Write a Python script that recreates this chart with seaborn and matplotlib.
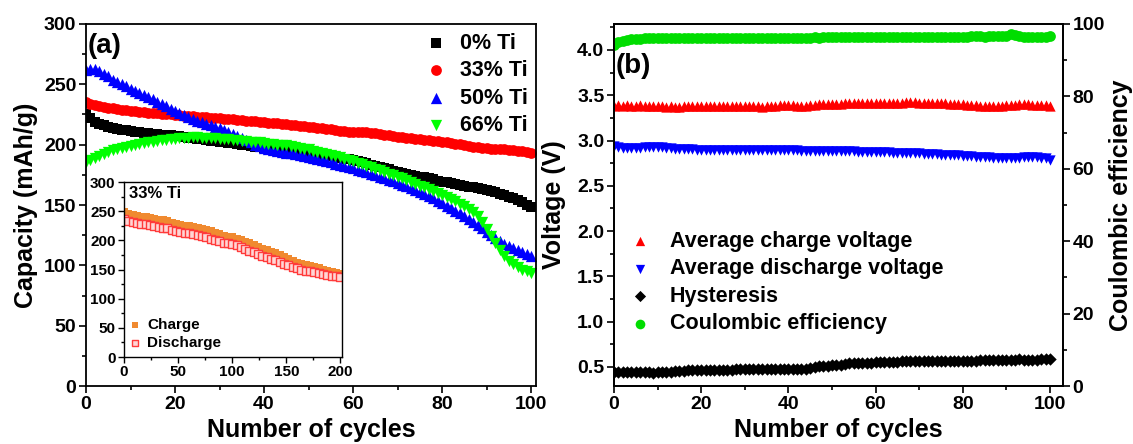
import matplotlib
matplotlib.use("Agg")
import matplotlib.pyplot as plt
import seaborn as sns
import pandas as pd
from matplotlib.ticker import MultipleLocator

# ---------------- data ----------------
cycles = list(range(0, 101))

cap_0Ti = [225, 222, 219, 217.5, 216, 215, 214, 213.2, 212.5, 211.8, 211.2,
           210.7, 210.2, 209.7, 209.3, 208.9, 208.6, 208.3, 208, 207.7, 207.3,
           206.8, 206.3, 205.8, 205.3, 204.8, 204.3, 203.8, 203.3, 202.9, 202.5,
           202, 201.5, 201, 200.4, 199.9, 199.4, 198.9, 198.4, 197.8, 197.3,
           196.9, 196.5, 196, 195.6, 195.1, 194.7, 194.2, 193.8, 193.3, 192.9,
           192.4, 191.9, 191.4, 190.8, 190.3, 189.7, 189.1, 188.5, 187.9, 187.3,
           186.4, 185.5, 184.5, 183.5, 182.5, 181.5, 180.5, 179.5, 178.5, 177.6,
           176.8, 176, 175.2, 174.4, 173.6, 172.8, 172, 171.2, 170.3, 169.4,
           168.7, 168, 167.3, 166.6, 166, 165.3, 164.7, 164, 163.3, 162.5,
           161.6, 160.6, 159.5, 158.3, 157, 155.6, 154, 152.3, 150.3, 148]

cap_33Ti = [235, 233.8, 232.8, 232, 231.3, 230.7, 230.1, 229.5, 229, 228.5, 228,
            227.6, 227.2, 226.9, 226.6, 226.3, 226, 225.7, 225.4, 225.1, 224.7,
            224.4, 224.1, 223.8, 223.5, 223.2, 222.9, 222.6, 222.3, 222, 221.8,
            221.5, 221.2, 220.9, 220.6, 220.3, 220, 219.7, 219.3, 218.9, 218.5,
            218.2, 217.9, 217.6, 217.3, 217, 216.6, 216.2, 215.8, 215.4, 215,
            214.6, 214.2, 213.7, 213.2, 212.7, 212.2, 211.6, 211.2, 210.9, 210.8,
            210.6, 210.4, 210.1, 209.7, 209.3, 208.8, 208.3, 207.7, 207.1, 206.6,
            206.2, 205.8, 205.3, 204.9, 204.5, 204.1, 203.7, 203.3, 202.9, 202.5,
            202, 201.4, 200.8, 200.2, 199.6, 199, 198.4, 197.8, 197.4, 197,
            196.8, 196.6, 196.4, 196.1, 195.8, 195.5, 195, 194.4, 193.6, 192.8]

cap_50Ti = [262, 263, 262.5, 261, 258.5, 256.5, 254, 252, 250, 248.3, 246.5,
            244.8, 243, 241.2, 239.4, 237.6, 235.7, 233.8, 231.8, 229.8, 227.8,
            226, 224.3, 222.7, 221.2, 219.8, 218.5, 217.3, 216.2, 215, 213.8,
            212.3, 210.7, 209, 207.2, 205.4, 203.6, 201.8, 200, 198.5, 197.2,
            196.3, 195.5, 194.8, 194.1, 193.4, 192.7, 192, 191.3, 190.6, 189.8,
            188.9, 188, 187.1, 186.2, 185.3, 184.3, 183.3, 182.3, 181.3, 180.3,
            179.2, 178.1, 177, 175.9, 174.7, 173.5, 172.3, 171, 169.6, 168.2,
            166.8, 165.4, 163.9, 162.3, 160.7, 159, 157.3, 155.5, 153.6, 151.6,
            149.5, 147.4, 145.2, 143, 140.7, 138.3, 135.8, 133.3, 130.6, 127.8,
            125, 122.4, 120, 117.8, 115.8, 114, 112.3, 110.7, 109.2, 107.5]

cap_66Ti = [186, 187.5, 189.3, 191, 192.6, 194, 195.3, 196.5, 197.5, 198.4, 199.2,
            200, 200.7, 201.3, 201.9, 202.5, 203, 203.5, 204, 204.4, 204.8,
            205.2, 205.5, 205.8, 206, 206, 205.9, 205.7, 205.5, 205.2, 204.9,
            204.6, 204.3, 204, 203.7, 203.3, 203, 202.6, 202.2, 201.8, 201.3,
            200.9, 200.5, 200.1, 199.8, 199.4, 198.9, 198.3, 197.6, 196.8, 196,
            195.1, 194.2, 193.3, 192.4, 191.4, 190.4, 189.4, 188.3, 187.2, 186.1,
            185, 183.8, 182.6, 181.3, 180, 178.7, 177.4, 176.1, 174.8, 173.5,
            172, 170.6, 169.1, 167.6, 166.1, 164.6, 163.1, 161.5, 159.9, 158.3,
            156.6, 154.9, 153.1, 151.2, 149.2, 146.8, 144, 140.5, 136, 130.5,
            124.5, 118.5, 113, 108, 104, 101, 98.5, 96.5, 95, 94]

inset_cycles = list(range(0, 201, 4))
inset_charge = [249, 246, 243.5, 242, 240.5, 239.3, 238.2, 237, 235.6, 234.3, 232.5,
                230.5, 228, 226.6, 225.4, 224, 222.6, 221, 219.3, 217.5, 215.3,
                213, 210.6, 208.2, 206.5, 205, 203, 200.5, 197.5, 194.8, 192,
                189, 185.8, 183, 180.5, 178, 175, 171.5, 168, 165, 162,
                159, 157, 155.5, 154.5, 152.5, 150, 147.5, 145.5, 143.5, 142]
inset_discharge = [236, 233, 231, 229.5, 228.3, 227.2, 226, 224.8, 223.4, 222, 220.4,
                   218.5, 216.3, 214.8, 213.3, 211.8, 210.2, 208.6, 206.9, 205, 202.8,
                   200.5, 198.2, 196, 194.8, 193.5, 191.5, 188.2, 185, 182.5, 179.8,
                   177, 173.8, 171, 168.5, 166, 163.2, 160, 157, 154.5, 152.2,
                   150, 148.2, 146.8, 145.5, 144, 142.5, 141, 139.5, 138.2, 137]

v_charge = [3.38, 3.39, 3.38, 3.39, 3.38, 3.38, 3.39, 3.38, 3.38, 3.38, 3.38,
            3.38, 3.37, 3.38, 3.37, 3.37, 3.38, 3.38, 3.38, 3.38, 3.38,
            3.38, 3.38, 3.38, 3.38, 3.38, 3.38, 3.38, 3.38, 3.38, 3.38,
            3.38, 3.38, 3.38, 3.37, 3.38, 3.38, 3.38, 3.39, 3.39, 3.39,
            3.39, 3.38, 3.38, 3.38, 3.39, 3.39, 3.40, 3.40, 3.40, 3.40,
            3.40, 3.40, 3.41, 3.41, 3.41, 3.41, 3.41, 3.41, 3.41, 3.41,
            3.41, 3.41, 3.42, 3.42, 3.42, 3.42, 3.43, 3.43, 3.43, 3.42,
            3.42, 3.42, 3.41, 3.41, 3.41, 3.41, 3.40, 3.40, 3.40, 3.40,
            3.39, 3.39, 3.39, 3.38, 3.38, 3.38, 3.38, 3.38, 3.38, 3.39,
            3.39, 3.39, 3.40, 3.40, 3.40, 3.39, 3.39, 3.39, 3.39, 3.38]

v_discharge = [2.94, 2.93, 2.92, 2.92, 2.92, 2.92, 2.92, 2.93, 2.93, 2.93, 2.93,
               2.93, 2.92, 2.92, 2.91, 2.91, 2.91, 2.91, 2.91, 2.90, 2.90,
               2.90, 2.90, 2.90, 2.90, 2.90, 2.90, 2.90, 2.90, 2.90, 2.90,
               2.90, 2.90, 2.90, 2.90, 2.90, 2.90, 2.90, 2.90, 2.90, 2.90,
               2.90, 2.90, 2.89, 2.89, 2.89, 2.89, 2.88, 2.88, 2.88, 2.88,
               2.88, 2.88, 2.88, 2.88, 2.88, 2.87, 2.87, 2.87, 2.87, 2.87,
               2.87, 2.87, 2.87, 2.86, 2.86, 2.86, 2.86, 2.86, 2.86, 2.86,
               2.85, 2.85, 2.85, 2.85, 2.84, 2.84, 2.84, 2.84, 2.84, 2.83,
               2.83, 2.83, 2.82, 2.82, 2.82, 2.82, 2.81, 2.81, 2.81, 2.81,
               2.81, 2.81, 2.81, 2.82, 2.82, 2.82, 2.82, 2.81, 2.81, 2.79]

hysteresis = [0.45, 0.45, 0.45, 0.45, 0.45, 0.45, 0.45, 0.44, 0.44, 0.43, 0.44,
              0.44, 0.45, 0.45, 0.46, 0.46, 0.46, 0.47, 0.47, 0.47, 0.47,
              0.47, 0.47, 0.47, 0.47, 0.47, 0.47, 0.47, 0.48, 0.48, 0.48,
              0.48, 0.48, 0.48, 0.48, 0.48, 0.48, 0.48, 0.48, 0.48, 0.48,
              0.48, 0.48, 0.48, 0.48, 0.49, 0.50, 0.51, 0.51, 0.51, 0.52,
              0.52, 0.52, 0.53, 0.54, 0.54, 0.54, 0.54, 0.54, 0.54, 0.55,
              0.55, 0.55, 0.56, 0.56, 0.56, 0.57, 0.57, 0.57, 0.57, 0.57,
              0.57, 0.57, 0.57, 0.57, 0.57, 0.57, 0.57, 0.57, 0.57, 0.57,
              0.57, 0.57, 0.57, 0.58, 0.58, 0.58, 0.58, 0.58, 0.58, 0.58,
              0.58, 0.58, 0.59, 0.58, 0.58, 0.58, 0.58, 0.59, 0.59, 0.59]

coulombic_eff = [94.3, 95.0, 95.4, 95.6, 95.8, 95.9, 95.9, 96.0, 96.0, 96.0, 96.0,
                 96.0, 96.0, 96.0, 96.0, 96.0, 96.0, 96.1, 96.1, 96.0, 96.1,
                 96.1, 96.1, 96.0, 96.1, 96.1, 96.1, 96.1, 96.1, 96.1, 96.1,
                 96.1, 96.1, 96.2, 96.1, 96.2, 96.2, 96.2, 96.2, 96.2, 96.2,
                 96.2, 96.2, 96.2, 96.2, 96.2, 96.3, 96.2, 96.3, 96.3, 96.3,
                 96.3, 96.3, 96.3, 96.3, 96.3, 96.4, 96.3, 96.3, 96.4, 96.4,
                 96.3, 96.4, 96.4, 96.4, 96.4, 96.4, 96.4, 96.4, 96.5, 96.4,
                 96.4, 96.5, 96.5, 96.5, 96.5, 96.5, 96.5, 96.5, 96.5, 96.5,
                 96.5, 96.6, 96.6, 96.6, 96.5, 96.6, 96.6, 96.6, 96.7, 96.8,
                 97.2, 96.9, 96.6, 96.5, 96.5, 96.4, 96.5, 96.5, 96.5, 96.6]

cap_labels = ["0% Ti", "33% Ti", "50% Ti", "66% Ti"]
right_labels = ["Average charge voltage", "Average discharge voltage",
                "Hysteresis", "Coulombic efficiency"]

# ---------------- style ----------------
sns.set_theme(style="ticks")
plt.rcParams["font.family"] = ["Liberation Sans", "DejaVu Sans"]
plt.rcParams.update({
    "font.weight": "bold",
    "axes.labelweight": "bold",
    "text.color": "black",
    "axes.labelcolor": "black",
    "axes.edgecolor": "black",
    "xtick.color": "black",
    "ytick.color": "black",
    "axes.linewidth": 1.3,
})

W, H = 1133, 444
fig = plt.figure(figsize=(W / 100, H / 100), dpi=100)


def rect(l, t, r, b):
    return [l / W, 1 - b / H, (r - l) / W, (b - t) / H]


def style_ticks(ax, size, major=5, minor=3, width=1.2):
    ax.tick_params(which="major", direction="out", length=major, width=width,
                   labelsize=size, pad=2)
    ax.tick_params(which="minor", direction="out", length=minor, width=width)
    for lab in ax.get_xticklabels() + ax.get_yticklabels():
        lab.set_fontweight("bold")


# ---------------- panel (a) ----------------
axA = fig.add_axes(rect(86, 24, 536, 386))
dfA = pd.DataFrame({"cycle": cycles, "c0": cap_0Ti, "c33": cap_33Ti,
                    "c50": cap_50Ti, "c66": cap_66Ti})
specA = [("c0", "s", "#000000", 50), ("c33", "o", "#FF0000", 60),
         ("c50", "^", "#0000FF", 66), ("c66", "v", "#00FF00", 66)]
for (col, mk, colr, s), lab in zip(specA, cap_labels):
    sns.scatterplot(data=dfA, x="cycle", y=col, ax=axA, marker=mk, color=colr,
                    s=s, linewidth=0, label=lab, legend=False)
axA.set_xlim(0, 101.1)
axA.set_ylim(0, 300)
axA.xaxis.set_major_locator(MultipleLocator(20))
axA.xaxis.set_minor_locator(MultipleLocator(10))
axA.yaxis.set_major_locator(MultipleLocator(50))
axA.yaxis.set_minor_locator(MultipleLocator(25))
style_ticks(axA, 14)
axA.set_xlabel("Number of cycles", fontsize=18, fontweight="bold", labelpad=4)
axA.set_ylabel("Capacity (mAh/g)", fontsize=18, fontweight="bold", labelpad=4)
axA.text(0.003, 0.938, "(a)", transform=axA.transAxes, fontsize=20,
         fontweight="bold", ha="left", va="center")
axA.legend(loc="upper right", bbox_to_anchor=(1.0, 1.0), frameon=False,
           handlelength=1.0, handletextpad=0.6,
           labelspacing=0.3, borderaxespad=0.1, borderpad=0.3,
           prop={"weight": "bold", "size": 15.5})

# inset
axI = fig.add_axes(rect(124, 182, 342, 357))
axI.set_facecolor("white")
dfI = pd.DataFrame({"cycle": inset_cycles, "charge": inset_charge,
                    "discharge": inset_discharge})
sns.scatterplot(data=dfI, x="cycle", y="charge", ax=axI, marker="s",
                color="#F08A30", s=38, linewidth=0, label="Charge", legend=False)
sns.scatterplot(data=dfI, x="cycle", y="discharge", ax=axI, marker="s",
                facecolor="#FFD6D6", edgecolor="#FF3B3B", s=32, linewidth=1.0,
                label="Discharge", legend=False)
axI.set_xlim(0, 201.5)
axI.set_ylim(0, 300)
axI.xaxis.set_major_locator(MultipleLocator(50))
axI.xaxis.set_minor_locator(MultipleLocator(25))
axI.yaxis.set_major_locator(MultipleLocator(50))
axI.yaxis.set_minor_locator(MultipleLocator(25))
for sp in axI.spines.values():
    sp.set_linewidth(1.0)
style_ticks(axI, 11, major=4, minor=2, width=1.0)
axI.set_xlabel("")
axI.set_ylabel("")
axI.text(0.025, 0.935, "33% Ti", transform=axI.transAxes, fontsize=12,
         fontweight="bold", ha="left", va="center")
axI.legend(loc="lower left", bbox_to_anchor=(0.0, 0.02), frameon=False,
           handlelength=1.0, handletextpad=0.3, labelspacing=0.3,
           borderaxespad=0.0, borderpad=0.2, markerscale=0.8,
           prop={"weight": "bold", "size": 11})

# ---------------- panel (b) ----------------
axB = fig.add_axes(rect(614, 24, 1063, 386))
axC = axB.twinx()
dfB = pd.DataFrame({"cycle": cycles, "vc": v_charge, "vd": v_discharge,
                    "hy": hysteresis, "ce": coulombic_eff})
sns.scatterplot(data=dfB, x="cycle", y="vc", ax=axB, marker="^", color="#FF0000",
                s=55, linewidth=0, label=right_labels[0], legend=False)
sns.scatterplot(data=dfB, x="cycle", y="vd", ax=axB, marker="v", color="#0000FF",
                s=55, linewidth=0, label=right_labels[1], legend=False)
sns.scatterplot(data=dfB, x="cycle", y="hy", ax=axB, marker="D", color="#000000",
                s=40, linewidth=0, label=right_labels[2], legend=False)
sns.scatterplot(data=dfB, x="cycle", y="ce", ax=axC, marker="o", color="#00DD00",
                s=60, linewidth=0, label=right_labels[3], legend=False)
axB.set_xlim(0, 103.0)
axB.set_ylim(0.29, 4.287)
axC.set_ylim(0, 100)
axB.xaxis.set_major_locator(MultipleLocator(20))
axB.xaxis.set_minor_locator(MultipleLocator(10))
axB.yaxis.set_major_locator(MultipleLocator(0.5))
axB.yaxis.set_minor_locator(MultipleLocator(0.25))
axC.yaxis.set_major_locator(MultipleLocator(20))
axC.yaxis.set_minor_locator(MultipleLocator(10))
style_ticks(axB, 14)
style_ticks(axC, 14)
for sp in axC.spines.values():
    sp.set_linewidth(1.3)
axB.set_xlabel("Number of cycles", fontsize=18, fontweight="bold", labelpad=4)
axB.set_ylabel("Voltage (V)", fontsize=18, fontweight="bold", labelpad=8)
axC.set_ylabel("Coulombic efficiency", fontsize=18, fontweight="bold", labelpad=3)
axB.text(0.003, 0.885, "(b)", transform=axB.transAxes, fontsize=20,
         fontweight="bold", ha="left", va="center")
h1, l1 = axB.get_legend_handles_labels()
h2, l2 = axC.get_legend_handles_labels()
axC.legend(h1 + h2, l1 + l2, loc="upper left", bbox_to_anchor=(0.0, 0.452),
           frameon=False, handlelength=1.6, handletextpad=0.6,
           labelspacing=0.3, borderaxespad=0.0, borderpad=0.4,
           markerscale=0.9, prop={"weight": "bold", "size": 15.5})

fig.savefig("out.png", dpi=100)
